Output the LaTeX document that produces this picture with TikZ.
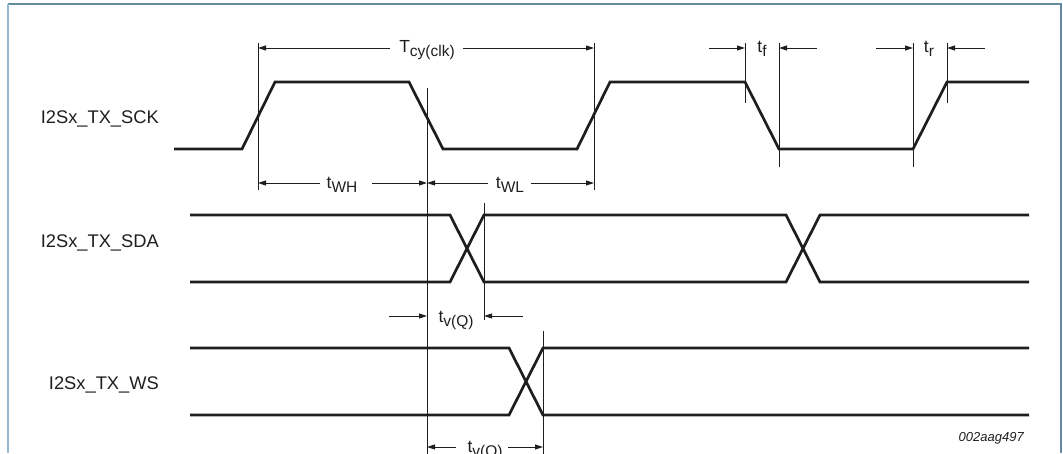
\documentclass[tikz,border=0pt]{standalone}
\usepackage{fontspec}
\setmainfont{Liberation Sans}
\usetikzlibrary{arrows.meta}
\definecolor{frameL}{RGB}{150,185,205}
\definecolor{frameD}{RGB}{100,140,160}
\definecolor{ink}{RGB}{30,30,30}
\newcommand{\sbs}[1]{\raisebox{-4.5pt}{\fontsize{15.5}{16}\selectfont #1}}
\begin{document}
\begin{tikzpicture}[x=1pt,y=-1pt,
  wave/.style={line width=2.7pt,color=ink,line join=miter},
  refline/.style={line width=0.9pt,color=ink},
  dim/.style={line width=0.9pt,color=ink,-{Triangle[length=8pt,width=5pt]}},
  sig/.style={font=\fontsize{18.3}{21}\selectfont,inner sep=0pt,anchor=base east,text=ink},
  lbl/.style={font=\fontsize{17.5}{20}\selectfont,inner sep=0pt,anchor=base,text=ink},
  idlbl/.style={font=\fontsize{13}{15}\selectfont\itshape,inner sep=0pt,anchor=base east,text=ink}]
\useasboundingbox (0,0) rectangle (1063,453);
% frame
\draw[frameD,line width=1.6pt] (8,4) -- (1061,4) -- (1061,453);
\draw[frameL,line width=2pt] (8,4) -- (8,453);
% signal names
\node[sig] (nsck) at (159,123) {I2Sx\_TX\_SCK};
\node[sig] (nsda) at (159,247) {I2Sx\_TX\_SDA};
\node[sig] (nws)  at (159,389) {I2Sx\_TX\_WS};
\node[idlbl] (id) at (1024,441) {002aag497};
% waveforms
\draw[wave] (174,149) -- (242,149) -- (275,82) -- (409,82) -- (443,149) -- (577,149) -- (610,82) -- (745,82) -- (779,149) -- (913,149) -- (947,82) -- (1029,82);
\draw[wave] (190,215) -- (450,215) -- (484,282) -- (786,282) -- (820,215) -- (1029,215);
\draw[wave] (190,282) -- (450,282) -- (484,215) -- (786,215) -- (820,282) -- (1029,282);
\draw[wave] (190,348) -- (509,348) -- (543,415) -- (1029,415);
\draw[wave] (190,415) -- (509,415) -- (543,348) -- (1029,348);
% reference lines
\draw[refline] (258,43) -- (258,190);
\draw[refline] (594,43) -- (594,190);
\draw[refline] (427,88) -- (427,460);
\draw[refline] (484,203) -- (484,320);
\draw[refline] (543,331) -- (543,460);
\draw[refline] (745,43) -- (745,103);
\draw[refline] (779,43) -- (779,167);
\draw[refline] (913,43) -- (913,167);
\draw[refline] (947,43) -- (947,103);
% dimension coordinates
\coordinate (cyL) at (258,48);  \coordinate (cyR) at (594,48);
\coordinate (cyA) at (390,48);  \coordinate (cyB) at (463,48);
\coordinate (whL) at (258,183); \coordinate (whR) at (427,183);
\coordinate (whA) at (320,183); \coordinate (whB) at (372,183);
\coordinate (wlL) at (427,183); \coordinate (wlR) at (594,183);
\coordinate (wlA) at (488,183); \coordinate (wlB) at (531,183);
\coordinate (tfL) at (745,48);  \coordinate (tfR) at (779,48);
\coordinate (tfA) at (709,48);  \coordinate (tfB) at (817,48);
\coordinate (trL) at (913,48);  \coordinate (trR) at (947,48);
\coordinate (trA) at (876,48);  \coordinate (trB) at (985,48);
\coordinate (v1L) at (427,316); \coordinate (v1R) at (484,316);
\coordinate (v1A) at (389,316); \coordinate (v1B) at (523,316);
\coordinate (v2L) at (427,447); \coordinate (v2R) at (543,447);
\coordinate (v2A) at (456,447); \coordinate (v2B) at (508,447);
% dimension labels
\node[lbl] (tcy) at (427,52)  {T\sbs{cy(clk)}};
\node[lbl] (twh) at (342,188) {t\sbs{WH}};
\node[lbl] (twl) at (510,188) {t\sbs{WL}};
\node[lbl] (tf)  at (762,52)  {t\sbs{f}};
\node[lbl] (tr)  at (929,52)  {t\sbs{r}};
\node[lbl] (tv1) at (456,322) {t\sbs{v(Q)}};
\node[lbl] (tv2) at (485,452) {t\sbs{v(Q)}};
% dimension arrows
\draw[dim] (cyA) -- (cyL); \draw[dim] (cyB) -- (cyR);
\draw[dim] (whA) -- (whL); \draw[dim] (whB) -- (whR);
\draw[dim] (wlA) -- (wlL); \draw[dim] (wlB) -- (wlR);
\draw[dim] (tfA) -- (tfL); \draw[dim] (tfB) -- (tfR);
\draw[dim] (trA) -- (trL); \draw[dim] (trB) -- (trR);
\draw[dim] (v1A) -- (v1L); \draw[dim] (v1B) -- (v1R);
\draw[dim] (v2A) -- (v2L); \draw[dim] (v2B) -- (v2R);
\end{tikzpicture}
\end{document}
